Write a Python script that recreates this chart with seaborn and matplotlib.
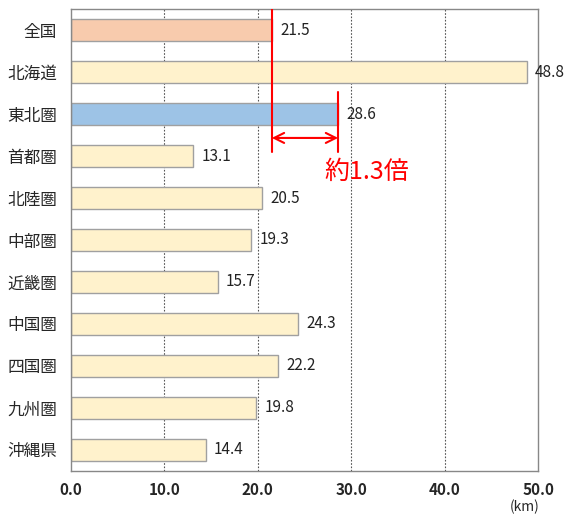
"""
Average distance by region - horizontal bar chart.
"""

import pandas as pd
import matplotlib.pyplot as plt
import seaborn as sns

regions = ['全国', '北海道', '東北圏', '首都圏', '北陸圏', '中部圏',
           '近畿圏', '中国圏', '四国圏', '九州圏', '沖縄県']
distances = [21.5, 48.8, 28.6, 13.1, 20.5, 19.3, 15.7, 24.3, 22.2, 19.8, 14.4]
bar_colors = ['#F8CBAD', '#FFF2CC', '#9DC3E6', '#FFF2CC', '#FFF2CC', '#FFF2CC',
              '#FFF2CC', '#FFF2CC', '#FFF2CC', '#FFF2CC', '#FFF2CC']
xticks = [0, 10, 20, 30, 40, 50]

sns.set_style('white')
plt.rcParams['font.family'] = ['Noto Sans CJK JP', 'DejaVu Sans']

df = pd.DataFrame({'region': regions, 'distance': distances})

fig = plt.figure(figsize=(5.69, 5.21), dpi=100)
ax = fig.add_axes([0.1248, 0.096, 0.8207, 0.8867])

sns.barplot(data=df, x='distance', y='region', hue='region', palette=bar_colors,
            saturation=1, legend=False, width=0.53, edgecolor='#A0A0A0',
            linewidth=1, ax=ax)

for i, v in enumerate(distances):
    ax.text(v + 0.9, i, f'{v:.1f}', va='center', ha='left', fontsize=11,
            color='#222222')

# national vs Tohoku comparison
ax.plot([21.5, 21.5], [-0.5, 2.9], color='red', lw=1.5, zorder=5)
ax.plot([28.6, 28.6], [1.48, 2.9], color='red', lw=1.5, zorder=5)
ax.annotate('', xy=(21.5, 2.57), xytext=(28.6, 2.57),
            arrowprops=dict(arrowstyle='<->', color='red', lw=1.5,
                            mutation_scale=18, shrinkA=0, shrinkB=0), zorder=5)
ax.text(27.1, 3.38, '約1.3倍', color='red', fontsize=18, va='center', ha='left')

ax.set_xlim(0, 50)
ax.set_ylim(10.5, -0.5)
ax.set_xticks(xticks)
ax.set_xticklabels([f'{t:.1f}' for t in xticks], fontweight='bold', fontsize=11)
ax.tick_params(axis='x', length=0, pad=8)
ax.tick_params(axis='y', length=0, pad=10, labelsize=12)
ax.set_xlabel('')
ax.set_ylabel('')

for t in xticks[1:-1]:
    ax.axvline(t, color='#555555', lw=0.8, linestyle=(0, (1.5, 1.5)), zorder=0)

for s in ax.spines.values():
    s.set_color('#888888')
    s.set_linewidth(1)

fig.text(0.922, 0.027, '(km)', fontsize=10, ha='center', va='center')

fig.savefig('out.png', dpi=100)
